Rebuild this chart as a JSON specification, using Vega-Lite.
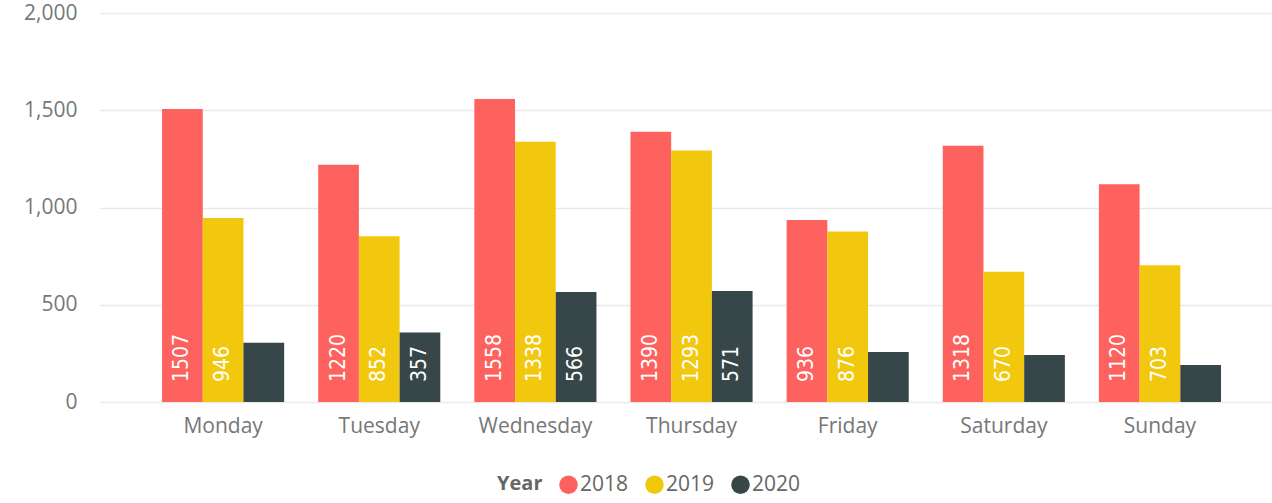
{
  "$schema": "https://vega.github.io/schema/vega-lite/v6.json",
  "autosize": {"type": "none"},
  "width": 1172,
  "height": 389,
  "padding": {"left": 100, "top": 13, "right": 0, "bottom": 101},
  "background": "white",
  "data": {
    "values": [
      {"Day": "Monday", "Year": "2018", "Count": 1507},
      {"Day": "Monday", "Year": "2019", "Count": 946},
      {"Day": "Monday", "Year": "2020", "Count": 305},
      {"Day": "Tuesday", "Year": "2018", "Count": 1220},
      {"Day": "Tuesday", "Year": "2019", "Count": 852},
      {"Day": "Tuesday", "Year": "2020", "Count": 357},
      {"Day": "Wednesday", "Year": "2018", "Count": 1558},
      {"Day": "Wednesday", "Year": "2019", "Count": 1338},
      {"Day": "Wednesday", "Year": "2020", "Count": 566},
      {"Day": "Thursday", "Year": "2018", "Count": 1390},
      {"Day": "Thursday", "Year": "2019", "Count": 1293},
      {"Day": "Thursday", "Year": "2020", "Count": 571},
      {"Day": "Friday", "Year": "2018", "Count": 936},
      {"Day": "Friday", "Year": "2019", "Count": 876},
      {"Day": "Friday", "Year": "2020", "Count": 257},
      {"Day": "Saturday", "Year": "2018", "Count": 1318},
      {"Day": "Saturday", "Year": "2019", "Count": 670},
      {"Day": "Saturday", "Year": "2020", "Count": 242},
      {"Day": "Sunday", "Year": "2018", "Count": 1120},
      {"Day": "Sunday", "Year": "2019", "Count": 703},
      {"Day": "Sunday", "Year": "2020", "Count": 190}
    ]
  },
  "encoding": {
    "x": {
      "field": "Day",
      "type": "nominal",
      "sort": ["Monday", "Tuesday", "Wednesday", "Thursday", "Friday", "Saturday", "Sunday"],
      "scale": {"paddingInner": 0.218, "paddingOuter": 0.362, "align": 0.549},
      "axis": {
        "title": null,
        "labelAngle": 0,
        "ticks": false,
        "domain": false,
        "labelPadding": 13,
        "labelFont": "Open Sans",
        "labelFontSize": 21,
        "labelColor": "#777777"
      }
    },
    "xOffset": {
      "field": "Year",
      "type": "nominal",
      "scale": {"paddingInner": 0, "paddingOuter": 0}
    }
  },
  "layer": [
    {
      "mark": {"type": "bar"},
      "encoding": {
        "y": {
          "field": "Count",
          "type": "quantitative",
          "scale": {"domain": [0, 2000], "nice": false},
          "axis": {
            "title": null,
            "values": [0, 500, 1000, 1500, 2000],
            "format": ",d",
            "ticks": false,
            "domain": false,
            "labelPadding": 23,
            "labelFont": "Open Sans",
            "labelFontSize": 21,
            "labelColor": "#777777",
            "gridColor": "#e9e9e9",
            "gridWidth": 1.5
          }
        },
        "color": {
          "field": "Year",
          "type": "nominal",
          "scale": {"domain": ["2018", "2019", "2020"], "range": ["#FD625E", "#F2C80F", "#374649"]},
          "legend": {
            "orient": "none",
            "legendX": 397,
            "legendY": 461,
            "direction": "horizontal",
            "title": "Year",
            "titleOrient": "left",
            "titleFont": "Open Sans",
            "titleFontSize": 20,
            "titleFontWeight": "bold",
            "titleColor": "#666666",
            "titlePadding": 15,
            "titleBaseline": "middle",
            "labelFont": "Open Sans",
            "labelFontSize": 21,
            "labelColor": "#666666",
            "labelOffset": 1,
            "columnPadding": 15,
            "symbolType": "circle",
            "symbolSize": 346,
            "symbolStrokeWidth": 0
          }
        }
      }
    },
    {
      "transform": [{"filter": "datum.Count > 330"}],
      "mark": {
        "type": "text",
        "angle": 270,
        "align": "left",
        "baseline": "middle",
        "dx": 20,
        "font": "DejaVu Sans Condensed",
        "fontSize": 21,
        "color": "white"
      },
      "encoding": {
        "y": {"datum": 0, "type": "quantitative"},
        "text": {"field": "Count", "type": "quantitative", "format": "d"}
      }
    }
  ],
  "config": {
    "view": {"stroke": null}
  }
}
